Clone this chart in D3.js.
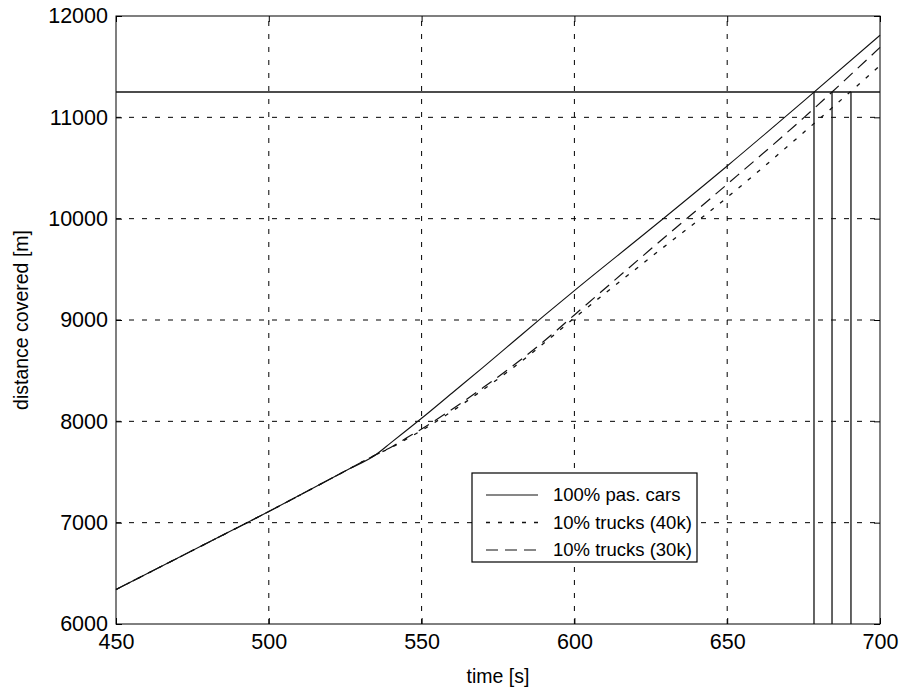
<!DOCTYPE html>
<html>
<head>
<meta charset="utf-8">
<script src="https://cdn.jsdelivr.net/npm/d3@7"></script>
<style>
  html, body { margin: 0; padding: 0; background: #fff; }
  svg { display: block; font-family: "Liberation Sans", Arial, sans-serif; }
</style>
</head>
<body>
<svg id="chart" width="907" height="696"></svg>
<script>
// Sample times [s]
const times = [450, 475, 500, 525, 535, 540, 545, 550, 560, 570, 580, 590, 600, 625, 650, 675, 700];
// Distance covered [m] for each traffic mix
const carsDist     = [6340, 6725, 7110, 7510, 7670, 7790, 7910, 8030, 8280, 8530, 8785, 9040, 9290, 9900, 10520, 11160, 11810];
const trucks40Dist = [6340, 6725, 7110, 7510, 7670, 7740, 7825, 7910, 8100, 8310, 8530, 8770, 9020, 9620, 10210, 10850, 11510];
const trucks30Dist = [6340, 6725, 7110, 7510, 7670, 7745, 7835, 7925, 8120, 8330, 8550, 8790, 9050, 9700, 10340, 10995, 11690];
// Route length and the time each mix reaches it
const targetDistance = 11250;
const arrivalTimes = [678.4, 684.3, 690.5];
// Axis ticks
const xTicks = [450, 500, 550, 600, 650, 700];
const yTicks = [6000, 7000, 8000, 9000, 10000, 11000, 12000];
const legendLabels = ["100% pas. cars", "10% trucks (40k)", "10% trucks (30k)"];

const margin = { left: 116, right: 27, top: 16, bottom: 72 };
const W = 907, H = 696;
const svg = d3.select("#chart");

const x = d3.scaleLinear().domain([450, 700]).range([margin.left, W - margin.right]);
const y = d3.scaleLinear().domain([6000, 12000]).range([H - margin.bottom, margin.top]);

const x0 = x.range()[0], x1 = x.range()[1];
const yb = y.range()[0], yt = y.range()[1];

// Grid
const grid = svg.append("g").attr("stroke", "#000").attr("stroke-width", 1)
  .attr("stroke-dasharray", "5,8").attr("fill", "none");
xTicks.slice(1, -1).forEach(t => {
  grid.append("line").attr("x1", x(t)).attr("x2", x(t)).attr("y1", yb).attr("y2", yt);
});
yTicks.slice(1, -1).forEach(t => {
  grid.append("line").attr("x1", x0).attr("x2", x1).attr("y1", y(t)).attr("y2", y(t));
});

// Axes with inward ticks
const fontSize = 21.5;
const xAxis = d3.axisBottom(x).tickValues(xTicks).tickSize(-6).tickPadding(9).tickFormat(d3.format("d"));
const yAxis = d3.axisLeft(y).tickValues(yTicks).tickSize(-6).tickPadding(8).tickFormat(d3.format("d"));
const gx = svg.append("g").attr("transform", `translate(0,${yb})`).call(xAxis);
const gy = svg.append("g").attr("transform", `translate(${x0},0)`).call(yAxis);
const gxt = svg.append("g").attr("transform", `translate(0,${yt})`)
  .call(d3.axisTop(x).tickValues(xTicks).tickSize(-6).tickFormat(""));
const gyr = svg.append("g").attr("transform", `translate(${x1},0)`)
  .call(d3.axisRight(y).tickValues(yTicks).tickSize(-6).tickFormat(""));
[gx, gy, gxt, gyr].forEach(g => {
  g.select(".domain").remove();
  g.selectAll("line").attr("stroke", "#000");
  g.selectAll("text").attr("font-size", fontSize).attr("fill", "#000")
    .attr("font-family", "Liberation Sans, Arial, sans-serif");
});
gx.selectAll("text").attr("dy", "0.75em");

// Plot frame
svg.append("rect").attr("x", x0).attr("y", yt).attr("width", x1 - x0).attr("height", yb - yt)
  .attr("fill", "none").attr("stroke", "#000").attr("stroke-width", 1);

// Route length and arrival markers
svg.append("line").attr("x1", x0).attr("x2", x1)
  .attr("y1", y(targetDistance)).attr("y2", y(targetDistance))
  .attr("stroke", "#111").attr("stroke-width", 1.3);
arrivalTimes.forEach(t => {
  svg.append("line").attr("x1", x(t)).attr("x2", x(t))
    .attr("y1", y(targetDistance)).attr("y2", yb)
    .attr("stroke", "#111").attr("stroke-width", 1.3);
});

// Distance curves
const series = [
  { name: legendLabels[0], values: carsDist, dash: null, width: 1.1 },
  { name: legendLabels[1], values: trucks40Dist, dash: "4,8", width: 1.3 },
  { name: legendLabels[2], values: trucks30Dist, dash: "12,7", width: 1.2 }
];
const line = d3.line().x(d => x(d[0])).y(d => y(d[1])).curve(d3.curveMonotoneX);
series.forEach(s => {
  svg.append("path")
    .datum(times.map((t, i) => [t, s.values[i]]))
    .attr("d", line)
    .attr("fill", "none")
    .attr("stroke", "#111")
    .attr("stroke-width", s.width)
    .attr("stroke-dasharray", s.dash);
});

// Axis titles
svg.append("text").attr("x", (x0 + x1) / 2).attr("y", 683)
  .attr("text-anchor", "middle").attr("font-size", 19.5).text("time [s]");
svg.append("text").attr("transform", `translate(28,${(yt + yb) / 2}) rotate(-90)`)
  .attr("text-anchor", "middle").attr("font-size", 19.5).text("distance covered [m]");

// Legend
const lg = svg.append("g").attr("transform", "translate(472,473)");
lg.append("rect").attr("width", 225).attr("height", 89)
  .attr("fill", "#fff").attr("stroke", "#000").attr("stroke-width", 1.2);
series.forEach((s, i) => {
  const cy = 22 + i * 27.5;
  lg.append("line").attr("x1", 14).attr("x2", 66).attr("y1", cy).attr("y2", cy)
    .attr("stroke", "#111").attr("stroke-width", s.width).attr("stroke-dasharray", s.dash);
  lg.append("text").attr("x", 81).attr("y", cy).attr("dy", "0.35em")
    .attr("font-size", 18.5).text(s.name);
});
</script>
</body>
</html>
